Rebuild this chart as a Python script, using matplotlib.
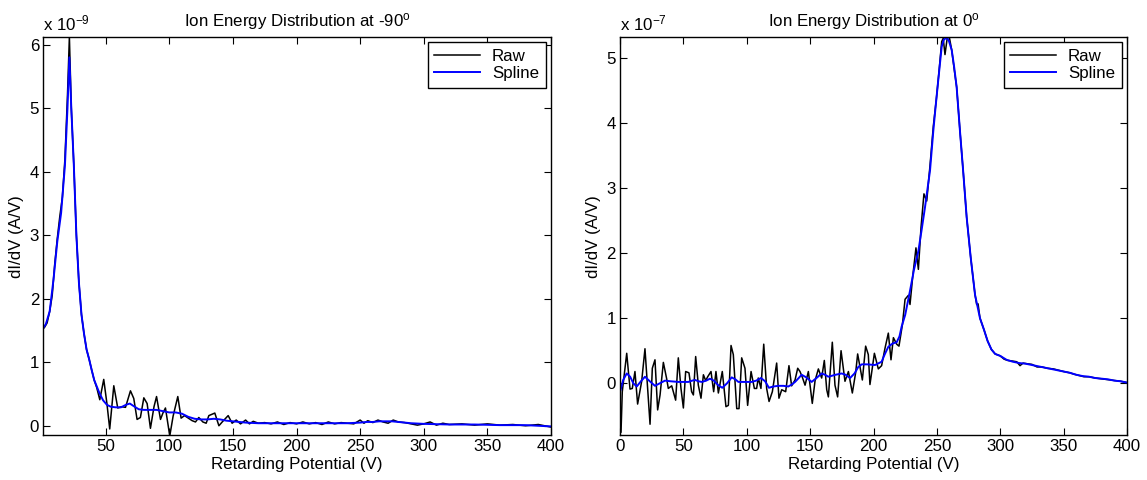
import matplotlib
matplotlib.use("Agg")
import matplotlib.pyplot as plt

plt.rcParams['font.family'] = ['Liberation Sans', 'DejaVu Sans']
plt.rcParams['mathtext.fontset'] = 'custom'
plt.rcParams['mathtext.rm'] = 'Liberation Sans'
plt.rcParams['mathtext.it'] = 'Liberation Sans'
plt.rcParams['font.size'] = 12

# ---------------- Left panel (-90 deg), values in 1e-9 A/V ----------------
left_raw_v = [0, 2, 4, 6, 8, 10, 12, 14, 16, 18, 20, 21.5, 23, 25, 27, 29, 31, 33, 35, 37,
              39, 41, 43, 45.4, 48.5, 51, 53.2, 56.4, 59.5, 62.5, 65.6, 69.5, 72.1, 74.7,
              77.3, 80, 82.6, 85.2, 88, 90, 93.1, 95, 97, 100.4, 103, 106.7, 109.3, 112,
              115, 118, 120.6, 123.2, 126.4, 129, 131.1, 135.8, 139, 141.6, 146.3, 149.4,
              152.6, 156, 160, 163, 166, 170, 175, 180, 185, 190, 195, 200, 205, 210, 215,
              220, 225, 230, 235, 240, 245, 250, 253, 256, 260, 264, 268, 272, 276, 280,
              285, 290, 295, 300, 305, 310, 315, 320, 330, 340, 350, 360, 370, 380, 390, 400]
left_raw_i = [1.51, 1.55, 1.62, 1.80, 2.05, 2.55, 2.95, 3.30, 3.60, 4.20, 5.20, 6.12, 5.00,
              4.10, 3.00, 2.25, 1.75, 1.45, 1.20, 1.05, 0.88, 0.72, 0.60, 0.41, 0.73, 0.35,
              -0.05, 0.63, 0.28, 0.30, 0.29, 0.55, 0.43, 0.10, 0.13, 0.44, 0.35, -0.04, 0.30,
              0.46, 0.10, 0.20, 0.28, -0.16, 0.15, 0.46, 0.12, 0.16, 0.12, 0.08, 0.06, 0.13,
              0.06, 0.04, 0.16, 0.20, 0.00, 0.06, 0.16, 0.04, 0.09, 0.03, 0.09, 0.03, 0.07,
              0.04, 0.05, 0.03, 0.06, 0.02, 0.05, 0.03, 0.06, 0.03, 0.05, 0.02, 0.06, 0.03,
              0.05, 0.04, 0.03, 0.09, 0.04, 0.08, 0.05, 0.09, 0.06, 0.04, 0.09, 0.06, 0.05,
              0.03, 0.01, 0.03, 0.06, 0.01, 0.04, 0.02, 0.03, 0.01, 0.03, 0.01, 0.02, 0.00,
              0.02, -0.02]
left_spl_v = [0, 3, 6, 9, 12, 15, 18, 20, 21.5, 23, 25, 27, 29, 31, 33, 35, 37, 39, 41, 43,
              45, 48, 51, 54, 58, 62, 66, 69, 72, 76, 80, 85, 90, 95, 100, 105, 110, 115,
              120, 125, 130, 135, 140, 145, 150, 160, 170, 180, 200, 220, 240, 250, 255,
              260, 265, 270, 275, 280, 285, 290, 300, 320, 340, 360, 380, 400]
left_spl_i = [1.51, 1.60, 1.80, 2.30, 2.90, 3.35, 4.10, 5.00, 5.80, 5.00, 4.10, 3.00, 2.25,
              1.75, 1.45, 1.20, 1.05, 0.88, 0.72, 0.62, 0.52, 0.40, 0.33, 0.30, 0.29, 0.29,
              0.33, 0.35, 0.31, 0.26, 0.25, 0.25, 0.25, 0.23, 0.21, 0.21, 0.19, 0.14, 0.11,
              0.10, 0.10, 0.11, 0.10, 0.08, 0.07, 0.05, 0.04, 0.04, 0.04, 0.04, 0.04, 0.05,
              0.06, 0.06, 0.07, 0.07, 0.07, 0.06, 0.05, 0.04, 0.03, 0.02, 0.02, 0.01, 0.01,
              -0.01]

# ---------------- Right panel (0 deg), values in 1e-7 A/V ----------------
right_raw_v = [0.8, 1.8, 5.3, 7.9, 9.7, 11.8, 13.9, 17.1, 19.7, 21.8, 23.7, 25.5, 27.6, 29.7,
               31.6, 34.2, 36.8, 38.1, 40.8, 43.9, 46.0, 48.1, 50.0, 51.8, 54.4, 56.5, 57.9,
               59.7, 61.8, 63.9, 65.8, 67.6, 69.2, 71.8, 73.9, 75.7, 77.6, 80.7, 83.6, 85.5,
               87.6, 89.4, 92.1, 93.9, 96.0, 98.6, 100.7, 103.4, 106.0, 107.8, 109.1, 111.2,
               113.4, 115.7, 117.6, 120.2, 123.6, 125.4, 127.6, 130.7, 133.3, 135.4, 138.1,
               140.2, 142.0, 143.9, 146.0, 148.6, 151.7, 153.9, 156.5, 159.1, 161.2, 163.1,
               164.4, 167.5, 169.6, 171.7, 174.4, 177.5, 180.2, 183.3, 185.9, 187.5, 191.2,
               193.8, 195.9, 197.2, 200.7, 203.8, 206.4, 209.1, 211.7, 213.8, 215.7, 218.3,
               220.1, 222.8, 224.9, 227.5, 228.8, 231, 233.5, 235.4, 237.5, 239.8, 242,
               244.6, 247.2, 249.5, 251.5, 253.8, 255, 256.4, 258, 259.5, 261.7, 263.5,
               265.6, 268.2, 270.9, 273.5, 276.7, 280.1, 281.4, 282.5, 284, 287.2, 290, 293,
               296, 300, 303, 306, 310, 313, 315.6, 318, 321, 325, 329, 333, 337, 342, 346,
               350, 355, 358, 362, 366, 370, 375, 379, 383, 387, 391, 395, 400]
right_raw_i = [-0.75, -0.13, 0.46, -0.09, -0.08, 0.18, -0.32, 0.03, 0.53, -0.08, -0.63, 0.23,
               0.36, -0.41, -0.18, 0.32, 0.07, -0.08, -0.04, -0.26, 0.39, -0.08, -0.38, 0.18,
               0.16, -0.13, -0.18, 0.41, -0.03, -0.23, 0.13, 0.04, 0.10, 0.18, -0.13, 0.18,
               -0.15, 0.18, -0.36, -0.34, 0.58, 0.44, -0.39, -0.39, 0.39, 0.23, -0.34, 0.18,
               -0.08, -0.08, 0.08, -0.08, 0.60, -0.08, -0.28, -0.13, 0.31, -0.23, -0.10,
               -0.13, 0.27, -0.04, 0.05, 0.23, 0.18, 0.09, -0.03, 0.18, -0.31, 0.04, 0.22,
               0.08, 0.35, -0.10, -0.21, 0.63, -0.03, -0.21, 0.50, 0.03, 0.18, -0.15, 0.16,
               0.45, 0.05, 0.57, 0.44, -0.02, 0.46, 0.22, 0.27, 0.54, 0.77, 0.36, 0.70, 0.60,
               0.57, 0.90, 1.29, 1.35, 1.21, 1.65, 2.08, 1.75, 2.40, 2.91, 2.80, 3.35, 3.95,
               4.35, 4.75, 5.25, 5.30, 5.05, 5.28, 5.35, 5.12, 4.85, 4.55, 3.88, 3.22, 2.55,
               1.93, 1.36, 1.21, 1.22, 1.00, 0.82, 0.65, 0.52, 0.45, 0.42, 0.37, 0.35, 0.34,
               0.33, 0.27, 0.31, 0.30, 0.29, 0.25, 0.25, 0.23, 0.22, 0.20, 0.18, 0.16, 0.14,
               0.12, 0.10, 0.10, 0.08, 0.07, 0.06, 0.05, 0.04, 0.03, 0.01]
right_spl_v = [0.5, 2.5, 5.3, 8, 10.5, 13.2, 16.5, 19.7, 23.5, 27.6, 31.5, 35.5, 40, 46, 50,
               53.9, 57, 59.2, 62, 64.5, 68, 71, 74, 77.5, 80.7, 84.5, 88.1, 91, 93.4, 98,
               103.9, 107.5, 111.2, 114.5, 117.5, 121, 124.9, 129, 132.8, 135.5, 138.1, 141,
               143.3, 147, 151.2, 155, 159.1, 161.8, 164.4, 170, 174.9, 178, 181.5, 185, 188,
               190.7, 195, 201.2, 206.4, 209, 211.7, 215, 218.3, 220.5, 222.2, 225, 228.8,
               232, 235.4, 238, 240.6, 244.6, 247.2, 249, 251.1, 253.8, 255.5, 257.7, 259.5,
               261.7, 263.5, 265.6, 268.2, 270.9, 273.5, 276.7, 280.1, 284, 287.2, 290, 293,
               296, 300, 305, 310, 315, 320, 325, 330, 335, 340, 345, 350, 355, 360, 365,
               370, 375, 380, 385, 390, 395, 400]
right_spl_i = [-0.10, 0.05, 0.15, 0.10, 0.00, -0.05, 0.03, 0.10, 0.03, -0.04, 0.00, 0.04,
               0.03, 0.02, 0.02, 0.02, 0.04, 0.05, 0.03, 0.02, 0.04, 0.07, 0.04, -0.03, -0.07,
               0.00, 0.09, 0.06, 0.02, 0.02, 0.02, 0.04, 0.08, 0.03, -0.07, -0.05, -0.04,
               -0.04, -0.05, -0.02, 0.02, 0.08, 0.13, 0.09, 0.02, 0.08, 0.15, 0.13, 0.10, 0.13,
               0.15, 0.13, 0.08, 0.15, 0.25, 0.29, 0.29, 0.28, 0.33, 0.45, 0.56, 0.61, 0.63,
               0.72, 0.87, 1.05, 1.42, 1.75, 2.03, 2.36, 2.70, 3.27, 3.88, 4.25, 4.66, 5.17,
               5.28, 5.31, 5.26, 5.12, 4.88, 4.55, 3.88, 3.22, 2.55, 1.93, 1.36, 1.00, 0.82,
               0.65, 0.52, 0.45, 0.42, 0.36, 0.33, 0.31, 0.30, 0.28, 0.26, 0.24, 0.22, 0.20,
               0.18, 0.16, 0.13, 0.11, 0.10, 0.08, 0.07, 0.06, 0.04, 0.03, 0.01]

titles = [r'Ion Energy Distribution at -90$^{\mathrm{o}}$',
          r'Ion Energy Distribution at 0$^{\mathrm{o}}$']
exponents = [r'x 10$^{-9}$', r'x 10$^{-7}$']
xlabel = 'Retarding Potential (V)'
ylabel = 'dI/dV (A/V)'
legend_labels = ['Raw', 'Spline']

W, H = 1147, 480
fig = plt.figure(figsize=(W / 100, H / 100), dpi=100)
ax1 = fig.add_axes([43.3 / W, 1 - 435.3 / H, (551 - 43.3) / W, (435.3 - 37) / H])
ax2 = fig.add_axes([620 / W, 1 - 435.3 / H, (1127 - 620) / W, (435.3 - 37) / H])

panels = [
    (ax1, left_raw_v, left_raw_i, left_spl_v, left_spl_i, (1, 400), (-0.15, 6.12),
     list(range(50, 401, 50)), list(range(0, 7))),
    (ax2, right_raw_v, right_raw_i, right_spl_v, right_spl_i, (0, 400), (-0.8, 5.32),
     list(range(0, 401, 50)), list(range(0, 6))),
]

FS = 12.2
for k, (ax, rv, ri, sv, si, xl, yl, xt, yt) in enumerate(panels):
    ax.plot(rv, ri, color='black', lw=1.1, label=legend_labels[0])
    ax.plot(sv, si, color='#0000ff', lw=1.4, label=legend_labels[1])
    ax.set_xlim(*xl)
    ax.set_ylim(*yl)
    ax.set_xticks(xt)
    ax.set_yticks(yt)
    ax.tick_params(direction='in', length=5, width=0.8, top=True, right=True,
                   labelsize=FS, pad=3)
    for s in ax.spines.values():
        s.set_linewidth(1.0)
    ax.set_xlabel(xlabel, fontsize=FS, labelpad=2)
    ax.set_ylabel(ylabel, fontsize=FS, labelpad=4)
    ax.set_title(titles[k], fontsize=FS, pad=8)
    ax.text(0, 1.008, exponents[k], transform=ax.transAxes, ha='left', va='bottom',
            fontsize=FS)
    leg = ax.legend(loc='upper right', fontsize=FS, fancybox=False, framealpha=1,
                    edgecolor='black', handlelength=2.7, borderaxespad=0.3,
                    labelspacing=0.15, borderpad=0.4, handletextpad=0.7)
    leg.get_frame().set_linewidth(1.0)

fig.savefig('out.png', dpi=100)
